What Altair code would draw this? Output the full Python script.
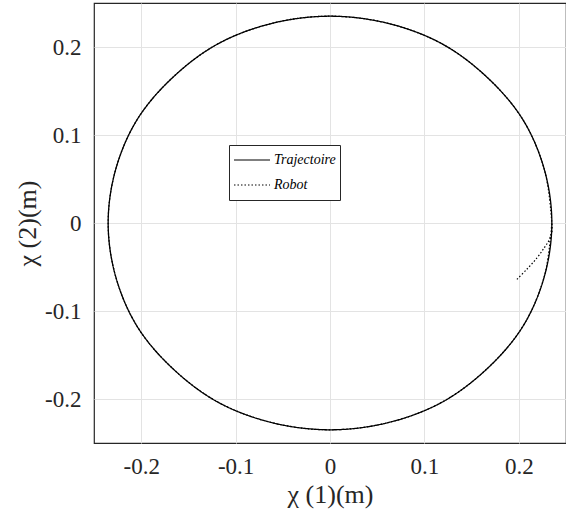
import altair as alt
import pandas as pd

# Reference trajectory (circle, radius ~0.235 m), read every 15 degrees
traj_x = [0.235, 0.227, 0.204, 0.166, 0.118, 0.061, 0.0, -0.061, -0.118, -0.166, -0.204, -0.227,
          -0.235, -0.227, -0.204, -0.166, -0.118, -0.061, 0.0, 0.061, 0.118, 0.166, 0.204, 0.227]
traj_y = [0.0, 0.061, 0.118, 0.166, 0.204, 0.227, 0.235, 0.227, 0.204, 0.166, 0.118, 0.061,
          0.0, -0.061, -0.118, -0.166, -0.204, -0.227, -0.235, -0.227, -0.204, -0.166, -0.118, -0.061]

# Robot: approach from its start point, then it follows the circle
approach_x = [0.198, 0.209, 0.219, 0.227, 0.233]
approach_y = [-0.064, -0.052, -0.040, -0.028, -0.017]

series_names = ["Trajectoire", "Robot"]
x_ticks = [-0.2, -0.1, 0.0, 0.1, 0.2]
y_ticks = [-0.2, -0.1, 0.0, 0.1, 0.2]

robot_x = approach_x + traj_x + [traj_x[0]]
robot_y = approach_y + traj_y + [traj_y[0]]

traj_df = pd.DataFrame({"x": traj_x, "y": traj_y, "i": range(len(traj_x)), "s": series_names[0]})
robot_df = pd.DataFrame({"x": robot_x, "y": robot_y, "i": range(len(robot_x)), "s": series_names[1]})

FONT = "Liberation Serif"
label_expr = "replace(format(datum.value, '.1~f'), '\u2212', '-')"

x_enc = alt.X("x:Q", scale=alt.Scale(domain=[-0.25, 0.25], nice=False, zero=False),
              axis=alt.Axis(values=x_ticks, title="χ (1)(m)", labelExpr=label_expr,
                            labelPadding=12, titlePadding=3))
y_enc = alt.Y("y:Q", scale=alt.Scale(domain=[-0.25, 0.25], nice=False, zero=False),
              axis=alt.Axis(values=y_ticks, title="χ (2)(m)", labelExpr=label_expr,
                            labelPadding=13, titlePadding=4))
dash_enc = alt.StrokeDash("s:N", scale=alt.Scale(domain=series_names, range=[[1, 0], [1.5, 2]]),
                          legend=alt.Legend(title=None))

traj = alt.Chart(traj_df).mark_line(interpolate="cardinal-closed", color="black", strokeWidth=1.3).encode(
    x=x_enc, y=y_enc, order="i:Q", strokeDash=dash_enc)
robot = alt.Chart(robot_df).mark_line(interpolate="cardinal", color="black", strokeWidth=1.2).encode(
    x=x_enc, y=y_enc, order="i:Q", strokeDash=dash_enc)

chart = alt.layer(traj, robot).properties(
    width=472, height=440,
    autosize=alt.AutoSizeParams(type="none"),
    padding={"left": 94, "top": 3, "right": 0, "bottom": 74},
    background="white",
).configure_view(stroke="#262626", strokeWidth=1.2).configure_axis(
    labelFont=FONT, labelFontSize=23, labelColor="#262626",
    titleFont=FONT, titleFontSize=26, titleColor="#262626", titleFontWeight="normal",
    grid=True, gridColor="#e3e3e3", gridWidth=1, domain=False, ticks=False,
).configure_legend(
    orient="none", legendX=135, legendY=142,
    strokeColor="#262626", fillColor="white", padding=4,
    symbolType="stroke", symbolSize=1300, symbolStrokeWidth=1.2, symbolStrokeColor="black",
    labelFont=FONT, labelFontStyle="italic", labelFontSize=14, labelColor="black",
    clipHeight=22, rowPadding=3, labelOffset=3,
)

chart.save("out.html", embed_options={"renderer": "svg", "actions": False})
